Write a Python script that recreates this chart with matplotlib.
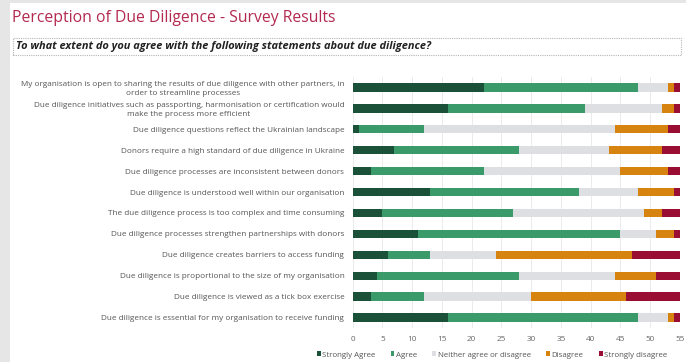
import numpy as np
import matplotlib.pyplot as plt
from matplotlib.patches import Rectangle, FancyBboxPatch

plt.rcParams['font.family'] = ['Open Sans', 'DejaVu Sans']

statements = [
    'My organisation is open to sharing the results of due diligence with other partners, in\norder to streamline processes',
    'Due diligence initiatives such as passporting, harmonisation or certification would\nmake the process more efficient',
    'Due diligence questions reflect the Ukrainian landscape',
    'Donors require a high standard of due diligence in Ukraine',
    'Due diligence processes are inconsistent between donors',
    'Due diligence is understood well within our organisation',
    'The due diligence process is too complex and time consuming',
    'Due diligence processes strengthen partnerships with donors',
    'Due diligence creates barriers to access funding',
    'Due diligence is proportional to the size of my organisation',
    'Due diligence is viewed as a tick box exercise',
    'Due diligence is essential for my organisation to receive funding',
]

strongly_agree = [22, 16, 1, 7, 3, 13, 5, 11, 6, 4, 3, 16]
agree = [26, 23, 11, 21, 19, 25, 22, 34, 7, 24, 9, 32]
neither = [5, 13, 32, 15, 23, 10, 22, 6, 11, 16, 18, 5]
disagree = [1, 2, 9, 9, 8, 6, 3, 3, 23, 7, 16, 1]
strongly_disagree = [1, 1, 2, 3, 2, 1, 3, 1, 8, 4, 9, 1]

series = ['Strongly Agree', 'Agree', 'Neither agree or disagree', 'Disagree', 'Strongly disagree']
colors = ['#1b5138', '#3a9a69', '#dddfe2', '#d6830f', '#9a0e33']

fig = plt.figure(figsize=(6.86, 3.62), dpi=100)
fig.patch.set_facecolor('white')

# grey page edge on the left and top
fig.add_artist(Rectangle((0, 0), 10 / 686, 1, transform=fig.transFigure,
                         facecolor='#e6e6e6', edgecolor='none', zorder=0))
fig.add_artist(Rectangle((0, 1 - 3 / 362), 1, 3 / 362, transform=fig.transFigure,
                         facecolor='#e6e6e6', edgecolor='none', zorder=0))

fig.text(12 / 686, 1 - 18 / 362, 'Perception of Due Diligence - Survey Results',
         fontsize=11.3, color='#b3294f', va='center', ha='left')

box = FancyBboxPatch((13 / 686, 1 - 55 / 362), 668 / 686, 17 / 362,
                     boxstyle='square,pad=0', transform=fig.transFigure,
                     facecolor='white', edgecolor='#b5b5b5', linestyle=(0, (1, 1)),
                     linewidth=0.8)
fig.add_artist(box)
fig.text(16 / 686, 1 - 46.5 / 362,
         'To what extent do you agree with the following statements about due diligence?',
         fontsize=7.9, fontweight='bold', fontstyle='italic', color='#222222',
         va='center', ha='left')

ax = fig.add_axes([352.7 / 686, 1 - 328 / 362, (680 - 352.7) / 686, 251 / 362])

y = np.arange(len(statements))
data = [strongly_agree, agree, neither, disagree, strongly_disagree]
left = np.zeros(len(statements))
for vals, name, c in zip(data, series, colors):
    ax.barh(y, vals, left=left, height=0.4, color=c, label=name, zorder=2)
    left += np.array(vals)

ax.set_xlim(0, 55)
ax.set_ylim(len(statements) - 0.5, -0.5)
ax.set_xticks(np.arange(0, 56, 5))
ax.set_yticks(y)
ax.set_yticklabels(statements, multialignment='center', linespacing=1.4)
ax.tick_params(axis='both', length=0, labelsize=5.9, labelcolor='#555555')
ax.tick_params(axis='x', pad=6, labelcolor='#666666')
ax.tick_params(axis='y', pad=6)
ax.grid(axis='x', color='#e8e8e8', linewidth=0.6, zorder=0)
for s in ax.spines.values():
    s.set_visible(False)

ax.legend(loc='center', bbox_to_anchor=(492 / 686, 1 - 355 / 362),
          bbox_transform=fig.transFigure, ncol=5, frameon=False,
          fontsize=5.7, labelcolor='#555555', handlelength=0.5, handleheight=0.5,
          handletextpad=0.2, columnspacing=1.9)

fig.savefig('out.png', dpi=100)
